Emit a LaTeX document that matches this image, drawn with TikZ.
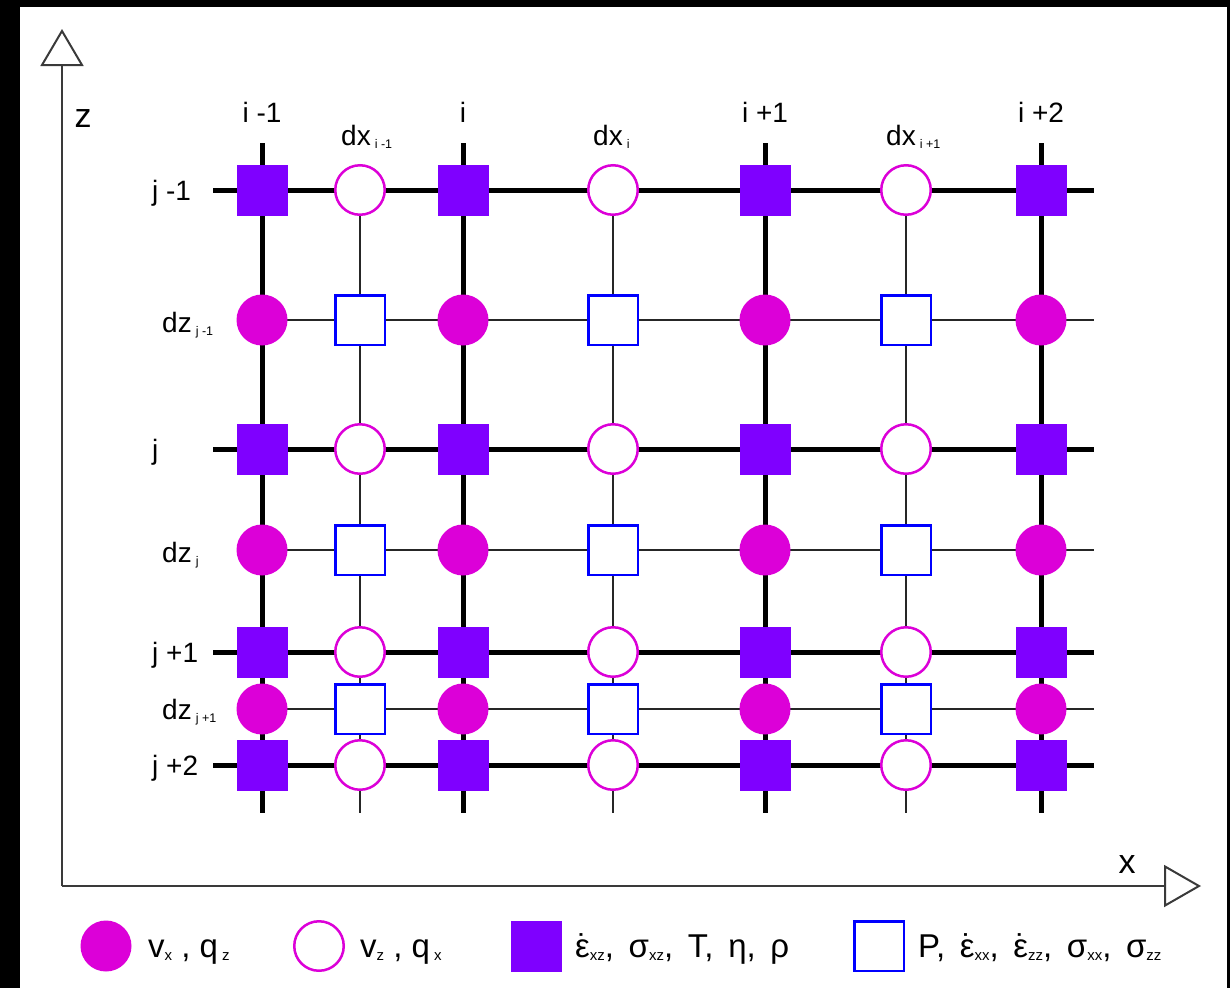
\documentclass[tikz,border=0pt]{standalone}
\usepackage{fontspec}
\setmainfont{Liberation Sans}
\usetikzlibrary{arrows.meta}
\definecolor{node-purple}{HTML}{7F00FF}
\definecolor{node-magenta}{HTML}{DC00D8}
\definecolor{node-blue}{HTML}{0000FF}
\definecolor{axis-gray}{HTML}{3A3A3A}
\pgfdeclarelayer{frame}
\pgfdeclarelayer{background}
\pgfsetlayers{frame,background,main}
\newcommand{\lowidx}[1]{\hspace{4pt}\raisebox{-3pt}{\fontsize{12.5}{13}\selectfont #1}}
\newcommand{\legidx}[1]{\raisebox{-3pt}{\fontsize{15}{15}\selectfont #1}}
\newcommand{\epsdot}{\ooalign{ε\cr\hidewidth˙\hidewidth\cr}}

\tikzset{
  vxnode/.style={circle, fill=node-magenta, minimum size=51pt, inner sep=0pt},
  vznode/.style={circle, draw=node-magenta, fill=white, line width=2.5pt,
                 minimum size=49.5pt, inner sep=0pt},
  exznode/.style={rectangle, fill=node-purple, minimum size=51pt, inner sep=0pt},
  pnode/.style={rectangle, draw=node-blue, fill=white, line width=2.5pt,
                minimum size=49.5pt, inner sep=0pt},
  thickline/.style={line width=5pt},
  thinline/.style={line width=1.5pt, black!85},
  axisline/.style={line width=2pt, axis-gray},
  legtext/.style={anchor=base west, inner sep=0pt, font=\fontsize{33}{35}\selectfont},
}

\begin{document}
\begin{tikzpicture}[x=1pt, y=-1pt,
        every node/.style={font=\fontsize{28}{30}\selectfont}]
      % frame
      \begin{pgfonlayer}{frame}
        \fill[black] (0,0) rectangle (1230,988);
        \fill[white] (20,7) rectangle (1227,988);
      \end{pgfonlayer}

      % grid nodes
      \foreach \x [count=\ci] in {262,463,765,1041} {
        \foreach \y [count=\ri] in {190,449,652,765}
          \node[exznode] (ez-\ci-\ri) at (\x,\y) {};
        \foreach \y [count=\ri] in {320,550,709}
          \node[vxnode] (vx-\ci-\ri) at (\x,\y) {};
      }
      \foreach \x [count=\ci] in {360,613,906} {
        \foreach \y [count=\ri] in {190,449,652,765}
          \node[vznode] (vz-\ci-\ri) at (\x,\y) {};
        \foreach \y [count=\ri] in {320,550,709}
          \node[pnode] (p-\ci-\ri) at (\x,\y) {};
      }

      % grid lines
      \begin{pgfonlayer}{background}
        \foreach \x [count=\ci] in {262,463,765,1041} {
          \coordinate (ctop-\ci) at (\x,143);
          \coordinate (cbot-\ci) at (\x,813);
          \draw[thickline] (ctop-\ci) -- (cbot-\ci);
        }
        \foreach \y [count=\ri] in {190,449,652,765} {
          \coordinate (rleft-\ri) at (213,\y);
          \coordinate (rright-\ri) at (1094,\y);
          \draw[thickline] (rleft-\ri) -- (rright-\ri);
        }
        \foreach \x [count=\ci] in {360,613,906} {
          \coordinate (hbot-\ci) at (\x,813);
          \draw[thinline] (vz-\ci-1.center) -- (hbot-\ci);
        }
        \foreach \y [count=\ri] in {320,550,709} {
          \coordinate (mright-\ri) at (1094,\y);
          \draw[thinline] (vx-1-\ri.center) -- (mright-\ri);
        }
      \end{pgfonlayer}

      % axes
      \coordinate (origin) at (62,886);
      \coordinate (ztip) at (62,29);
      \coordinate (xtip) at (1201,886);
      \draw[axisline, -{Triangle[open, length=37pt, width=43pt]}] (origin) -- (ztip);
      \draw[axisline, -{Triangle[open, length=37pt, width=42pt]}] (origin) -- (xtip);
      \node[font=\fontsize{34}{36}\selectfont] (zlab) at (83,119) {z};
      \node[font=\fontsize{34}{36}\selectfont] (xlab) at (1127,865) {x};

      % column labels
      \node[anchor=base] (col-1) at (262,122) {i -1};
      \node[anchor=base] (col-2) at (463,122) {i};
      \node[anchor=base] (col-3) at (765,122) {i +1};
      \node[anchor=base] (col-4) at (1041,122) {i +2};
      \node[anchor=base west, inner sep=0pt] (dx-1) at (341,145) {dx\lowidx{i -1}};
      \node[anchor=base west, inner sep=0pt] (dx-2) at (593,145) {dx\lowidx{i}};
      \node[anchor=base west, inner sep=0pt] (dx-3) at (886,145) {dx\lowidx{i +1}};

      % row labels
      \node[anchor=base west, inner sep=0pt] (row-1) at (152,200) {j -1};
      \node[anchor=base west, inner sep=0pt] (row-2) at (152,459) {j};
      \node[anchor=base west, inner sep=0pt] (row-3) at (152,662) {j +1};
      \node[anchor=base west, inner sep=0pt] (row-4) at (152,775) {j +2};
      \node[anchor=base west, inner sep=0pt] (dz-1) at (162,332) {dz\lowidx{j -1}};
      \node[anchor=base west, inner sep=0pt] (dz-2) at (162,562) {dz\lowidx{j}};
      \node[anchor=base west, inner sep=0pt] (dz-3) at (162,719) {dz\lowidx{j +1}};

      % legend
      \node[vxnode] (leg-vx) at (106,946) {};
      \node[legtext] (leg-vx-text) at (148,957)
            {v\legidx{x} , q\legidx{ z}};
      \node[vznode] (leg-vz) at (319,946) {};
      \node[legtext] (leg-vz-text) at (360,957)
            {v\legidx{z} , q\legidx{ x}};
      \node[exznode] (leg-ez) at (536,946) {};
      \node[legtext] (leg-ez-text) at (575,957)
            {\epsdot\legidx{xz}, \,σ\legidx{xz}, \,T, \,η, \,ρ};
      \node[pnode] (leg-p) at (879,946) {};
      \node[legtext] (leg-p-text) at (918,957)
            {P, \,\epsdot\legidx{xx}, \,\epsdot\legidx{zz}, \,σ\legidx{xx}, \,σ\legidx{zz}};
\end{tikzpicture}
\end{document}
